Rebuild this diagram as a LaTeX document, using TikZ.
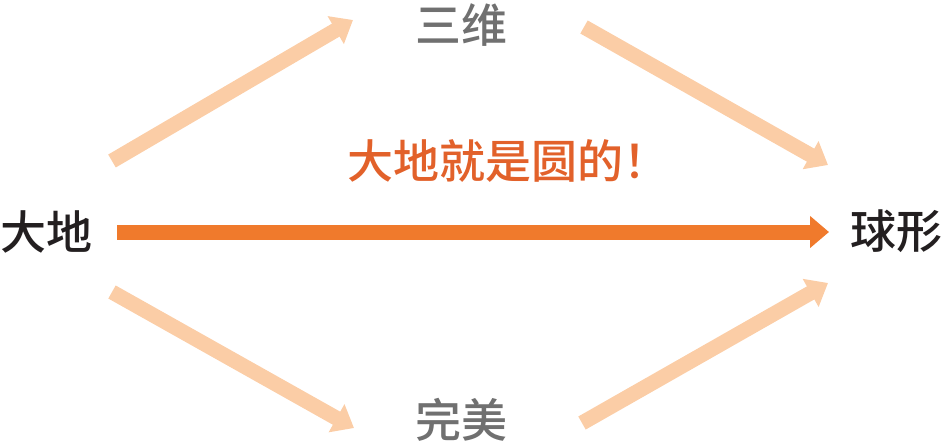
\documentclass[tikz,border=0pt]{standalone}
\usepackage{fontspec}
\newfontfamily\cjk{Noto Sans CJK SC Medium}
\usetikzlibrary{arrows.meta}
\definecolor{lightor}{HTML}{FBCDA6}
\definecolor{mainor}{HTML}{F07A2C}
\definecolor{textor}{HTML}{E2612A}
\definecolor{graytx}{HTML}{707070}
\definecolor{blacktx}{HTML}{231F20}
\tikzset{
  lbl/.style={inner sep=0pt, font=\cjk\fontsize{46}{50}\selectfont},
  lightarrow/.style={draw=lightor, line width=15pt, -{Triangle[width=31pt,length=20pt]}},
  mainarrow/.style={draw=mainor, line width=15pt, -{Triangle[width=31pt,length=19pt]}},
}
\begin{document}
\begin{tikzpicture}[x=1pt,y=-1pt]
\useasboundingbox (0,0) rectangle (944,445);
\node[lbl, text=blacktx] (dadi) at (46,232) {大地};
\node[lbl, text=blacktx] (qiu) at (896,231) {球形};
\node[lbl, text=graytx] (sanwei) at (461,25) {三维};
\node[lbl, text=graytx] (wanmei) at (461,420) {完美};
\node[lbl, text=textor] (msg) at (508,161) {大地就是圆的！};
\coordinate (ulS) at (112,161);
\coordinate (ulE) at (353,20);
\coordinate (urS) at (584,27);
\coordinate (urE) at (828,165);
\coordinate (llS) at (112,292);
\coordinate (llE) at (354,428);
\coordinate (lrS) at (582,423);
\coordinate (lrE) at (828,283);
\coordinate (mS) at (117,232);
\coordinate (mE) at (829,232);
\draw[lightarrow] (ulS) -- (ulE);
\draw[lightarrow] (urS) -- (urE);
\draw[lightarrow] (llS) -- (llE);
\draw[lightarrow] (lrS) -- (lrE);
\draw[mainarrow] (mS) -- (mE);
\end{tikzpicture}
\end{document}
